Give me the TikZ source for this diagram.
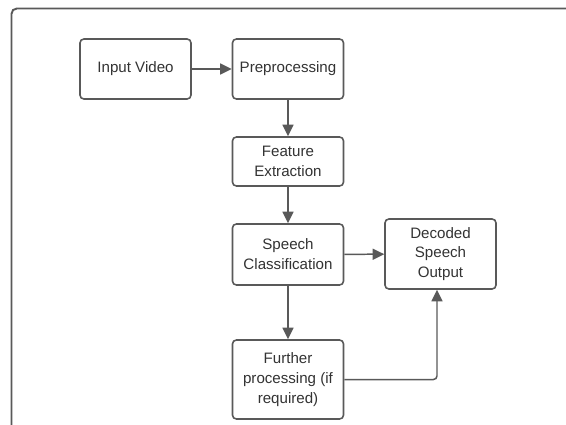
\documentclass[tikz,border=0pt]{standalone}
\usepackage{fontspec}
\setmainfont{Liberation Sans}
\usepackage{xcolor}
\usetikzlibrary{positioning,arrows.meta}
\definecolor{edge}{HTML}{595959}
\definecolor{txt}{HTML}{333333}

\begin{document}
\begin{tikzpicture}[
  x=0.02cm, y=-0.02cm,
  n/.style={draw=edge, line width=0.9pt, rounded corners=2.2pt, fill=white,
            minimum width=2.22cm, align=center, inner sep=1pt,
            text=txt, font=\fontsize{8.6}{11.3}\selectfont},
  arr/.style={-{Triangle[length=2.3mm, width=2.2mm]}, line width=0.85pt, draw=edge},
  frame/.style={draw=edge, line width=1.1pt, rounded corners=3pt},
]
\useasboundingbox (0,0) rectangle (566,424);
\clip (0,0) rectangle (566,424);
\draw[frame] (11.5,8.5) rectangle (620,480);

% --- main pipeline ---
\node[n, minimum height=1.2cm]  (inp)  at (135.5,69)  {Input Video};
\node[n, minimum height=1.2cm]  (pre)  at (288,69)    {Preprocessing};
\node[n, minimum height=0.98cm] (feat) at (288,161.5) {Feature\\Extraction};
\node[n, minimum height=1.22cm] (cls)  at (288,254.5) {Speech\\Classification};
\node[n, minimum height=1.4cm]  (dec)  at (440.5,254) {Decoded\\Speech\\Output};
\node[n, minimum height=1.58cm] (fur)  at (288,379.5) {Further\\processing (if\\required)};

\foreach \x/\y in {inp/pre,pre/feat,feat/cls,cls/dec,cls/fur} \draw[arr] (\x) -- (\y);
\draw[arr, rounded corners=2pt] (fur.east) -| ([xshift=-0.07cm]dec.south);
\end{tikzpicture}
\end{document}
